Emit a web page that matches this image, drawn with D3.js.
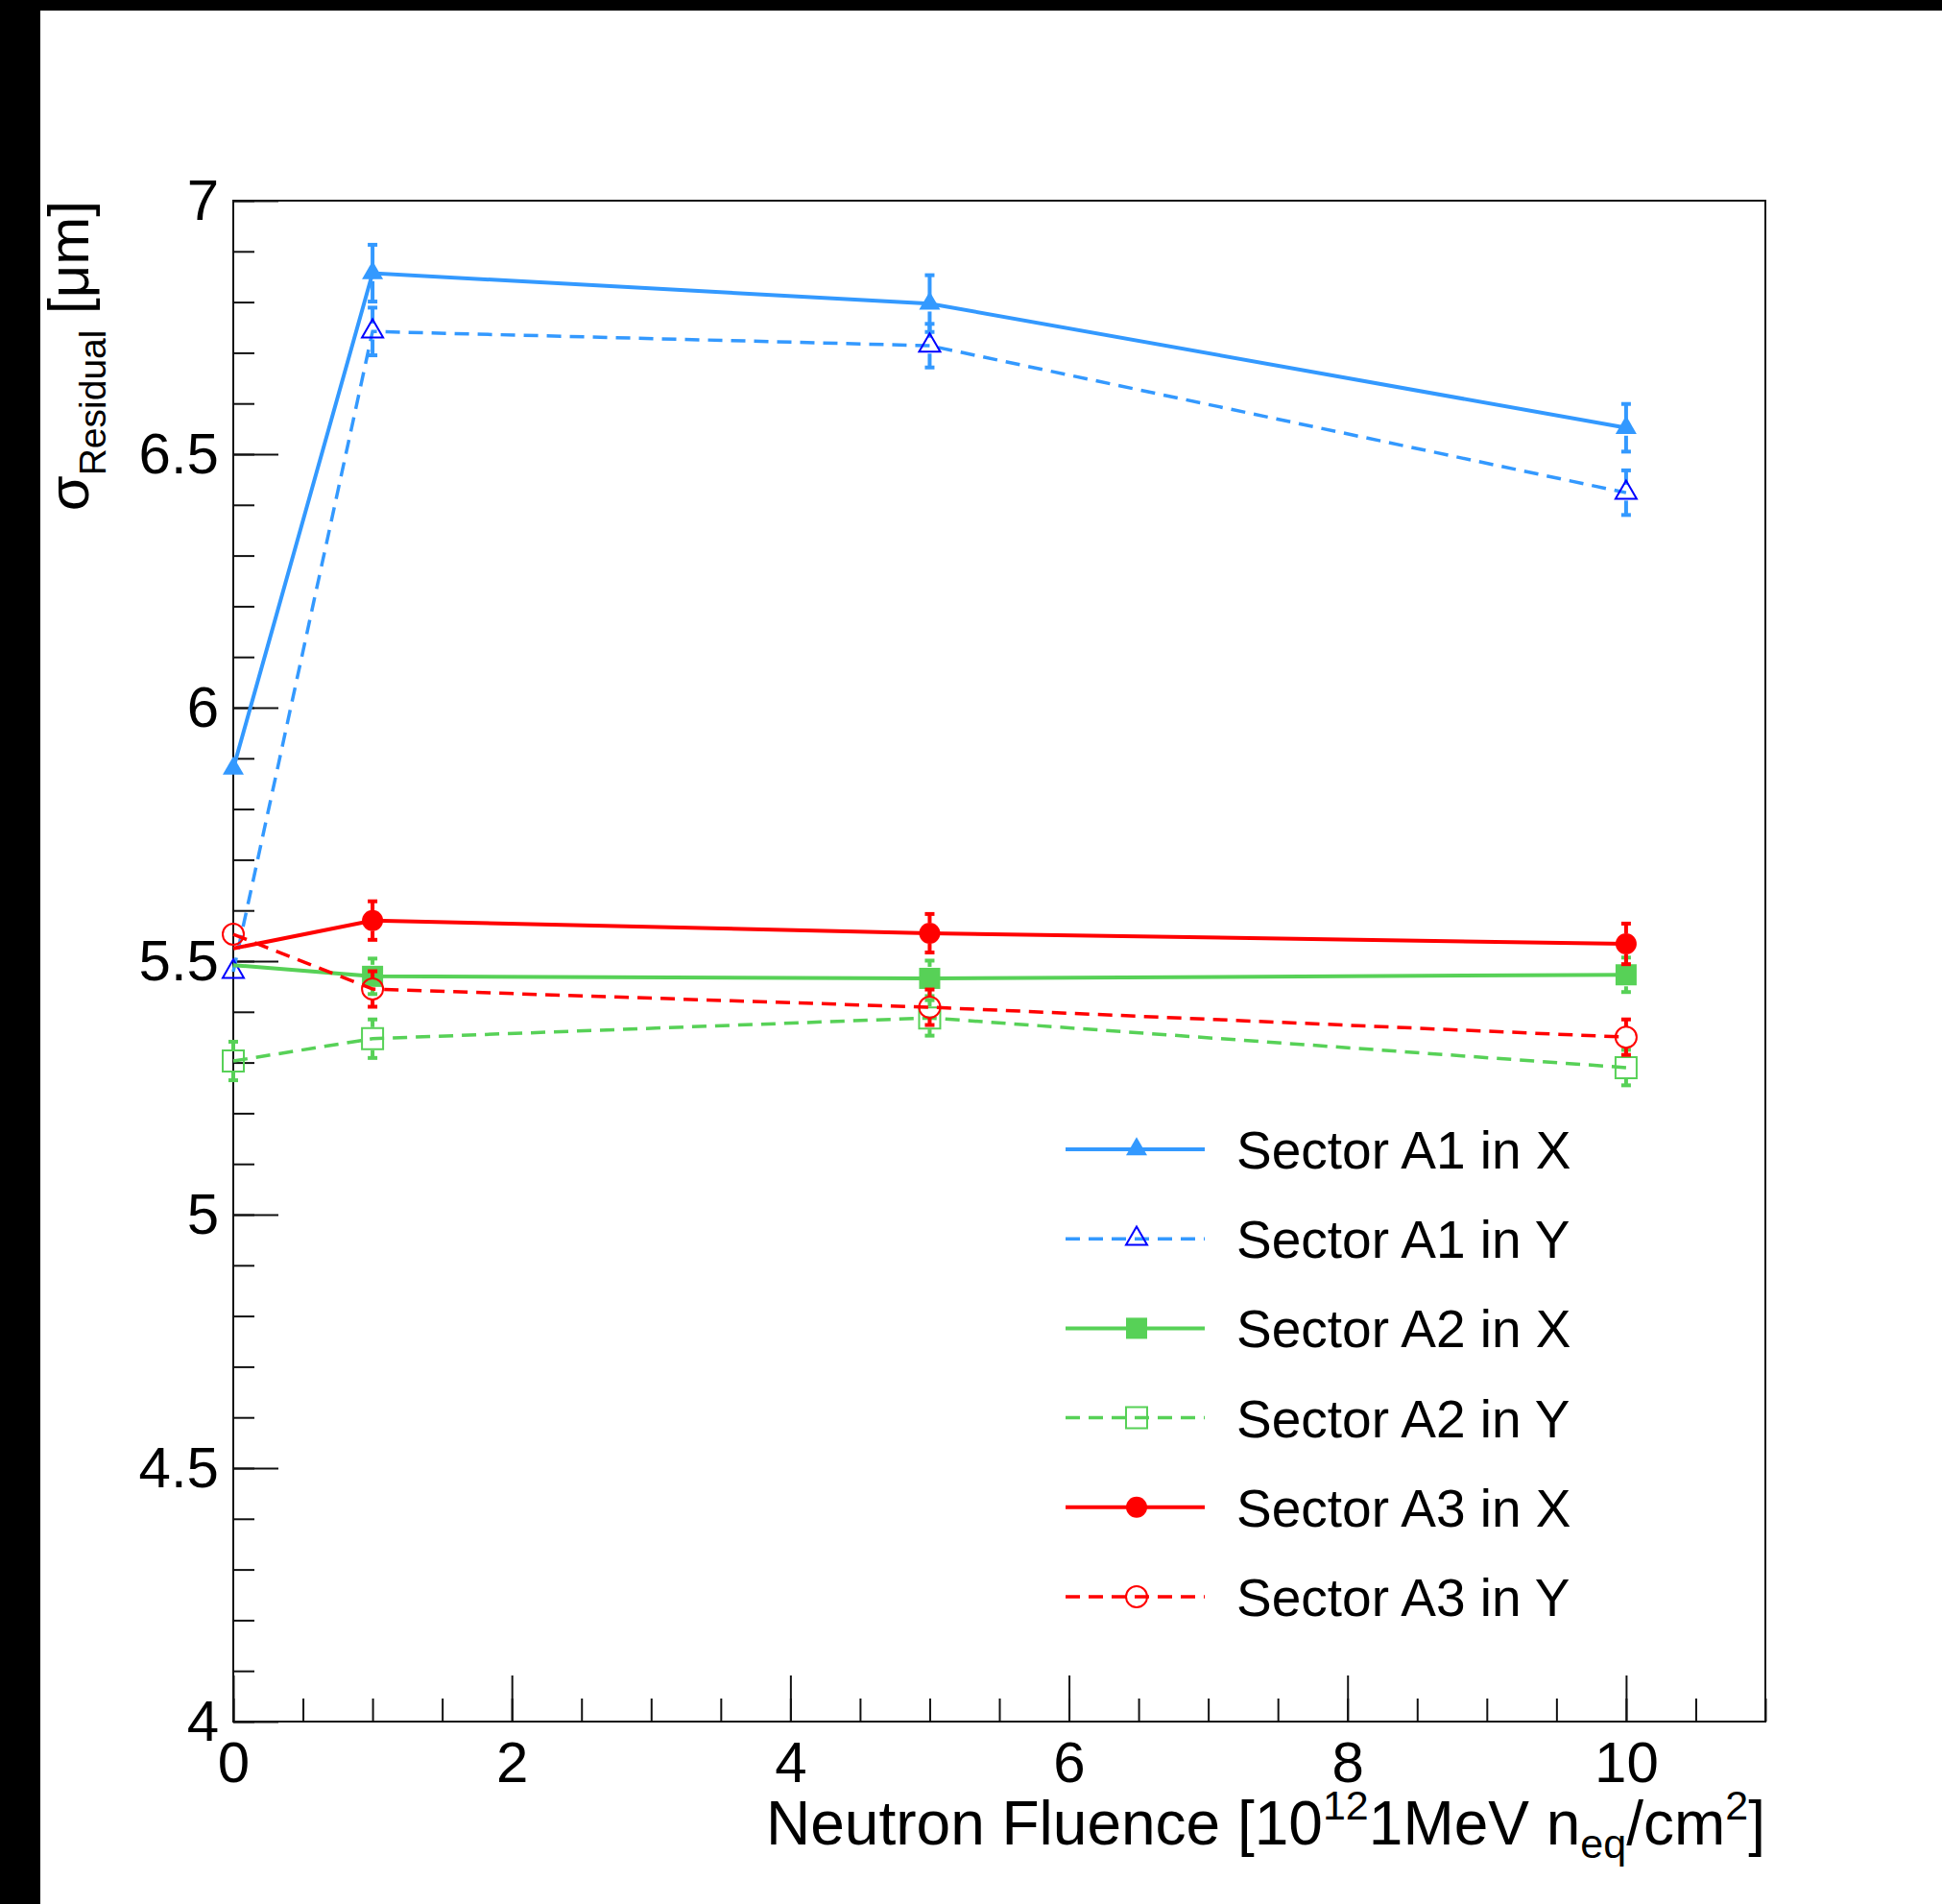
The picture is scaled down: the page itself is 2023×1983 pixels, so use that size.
<!DOCTYPE html>
<html>
<head>
<meta charset="utf-8">
<script src="https://cdn.jsdelivr.net/npm/d3@7"></script>
<style>
  body { margin: 0; background: #fff; }
  text { font-family: "Liberation Sans", Arial, Helvetica, sans-serif; fill: #000; }
</style>
</head>
<body>
<script>
// neutron fluence points, in 10^12 1MeV n_eq/cm^2
var fluence = [0, 1, 5, 10];

// residual widths in um
var a1x = [5.88, 6.857, 6.797, 6.552];
var a1xErr = [0.015, 0.056, 0.056, 0.047];
var a1y = [5.479, 6.742, 6.714, 6.424];
var a1yErr = [0.015, 0.047, 0.043, 0.044];
var a2x = [5.492, 5.470, 5.466, 5.473];
var a2xErr = [0.03, 0.035, 0.035, 0.034];
var a2y = [5.303, 5.347, 5.388, 5.290];
var a2yErr = [0.038, 0.038, 0.035, 0.035];
var a3x = [5.525, 5.580, 5.555, 5.534];
var a3xErr = [0.035, 0.038, 0.038, 0.04];
var a3y = [5.553, 5.445, 5.409, 5.350];
var a3yErr = [0.015, 0.035, 0.035, 0.035];

var legendNames = ["Sector A1 in X", "Sector A1 in Y", "Sector A2 in X",
                   "Sector A2 in Y", "Sector A3 in X", "Sector A3 in Y"];
var yTickLabels = [4, 4.5, 5, 5.5, 6, 6.5, 7];
var xTickLabels = [0, 2, 4, 6, 8, 10];

var width = 2023;
var height = 1983;
var frame = {left: 243, right: 1839, top: 209, bottom: 1793};

var blue = "#3399ff", green = "#57d157", red = "#ff0000";

// the X graphs of A2 and A3 show no marker on the first point
var series = [
    {name: legendNames[0], v: a1x, e: a1xErr, color: blue, dash: null, shape: d3.symbolTriangle, fill: true, mcolor: blue, first: true},
    {name: legendNames[1], v: a1y, e: a1yErr, color: blue, dash: "15,9", shape: d3.symbolTriangle, fill: false, mcolor: "#0000ff", first: true},
    {name: legendNames[2], v: a2x, e: a2xErr, color: green, dash: null, shape: d3.symbolSquare, fill: true, mcolor: green, first: false},
    {name: legendNames[3], v: a2y, e: a2yErr, color: green, dash: "15,9", shape: d3.symbolSquare, fill: false, mcolor: green, first: true},
    {name: legendNames[4], v: a3x, e: a3xErr, color: red, dash: null, shape: d3.symbolCircle, fill: true, mcolor: red, first: false},
    {name: legendNames[5], v: a3y, e: a3yErr, color: red, dash: "15,9", shape: d3.symbolCircle, fill: false, mcolor: red, first: true}
];

var x = d3.scaleLinear().domain([0, 11]).range([frame.left, frame.right]);
var y = d3.scaleLinear().domain([4, 7]).range([frame.bottom, frame.top]);

var svg = d3.select("body").append("svg")
    .attr("width", width)
    .attr("height", height);

svg.append("rect").attr("width", width).attr("height", height).attr("fill", "#fff");
// black strips of the screenshot
svg.append("rect").attr("x", 0).attr("y", 0).attr("width", 42).attr("height", height).attr("fill", "#000");
svg.append("rect").attr("x", 0).attr("y", 0).attr("width", width).attr("height", 11).attr("fill", "#000");

function symbolSize(shape) {
    if (shape === d3.symbolTriangle) return 210;
    if (shape === d3.symbolSquare) return 484;
    return 380;
}

// axes: minor ticks first, then major ticks with labels
var yMinor = d3.axisLeft(y).tickValues(d3.range(40, 71).map(function(d) { return d / 10; }))
    .tickSizeInner(-22).tickSizeOuter(0).tickFormat("");
var yMajor = d3.axisLeft(y).tickValues(yTickLabels)
    .tickSizeInner(-47).tickSizeOuter(0).tickPadding(15).tickFormat(d3.format("~g"));
var xMinor = d3.axisBottom(x).tickValues(d3.range(0, 23).map(function(d) { return d / 2; }))
    .tickSizeInner(-24).tickSizeOuter(0).tickFormat("");
var xMajor = d3.axisBottom(x).tickValues(xTickLabels)
    .tickSizeInner(-48).tickSizeOuter(0).tickPadding(20).tickFormat(d3.format("d"));

[yMinor, yMajor].forEach(function(ax) {
    var g = svg.append("g").attr("transform", "translate(" + frame.left + ",0)").call(ax);
    g.select(".domain").remove();
    g.selectAll("line").attr("stroke", "#111").attr("stroke-width", 2);
});
[xMinor, xMajor].forEach(function(ax) {
    var g = svg.append("g").attr("transform", "translate(0," + frame.bottom + ")").call(ax);
    g.select(".domain").remove();
    g.selectAll("line").attr("stroke", "#111").attr("stroke-width", 2);
});
svg.selectAll(".tick text")
    .attr("font-size", 60)
    .attr("font-family", "Liberation Sans, Arial, sans-serif")
    .attr("fill", "#000");

svg.append("rect")
    .attr("x", frame.left).attr("y", frame.top)
    .attr("width", frame.right - frame.left)
    .attr("height", frame.bottom - frame.top)
    .attr("fill", "none")
    .attr("stroke", "#111")
    .attr("stroke-width", 2);

var line = d3.line()
    .x(function(d) { return x(d.f); })
    .y(function(d) { return y(d.v); });

series.forEach(function(s) {
    var pts = fluence.map(function(f, i) { return {f: f, v: s.v[i], e: s.e[i], i: i}; });
    var g = svg.append("g");

    g.append("path")
        .attr("d", line(pts))
        .attr("fill", "none")
        .attr("stroke", s.color)
        .attr("stroke-width", s.dash ? 3.5 : 4)
        .attr("stroke-dasharray", s.dash);

    var half = Math.sqrt(symbolSize(s.shape)) / 2 + 1;
    pts.forEach(function(p) {
        if (p.i === 0 && !s.first) return;
        var cx = x(p.f), cy = y(p.v);
        var top = y(p.v + p.e), bot = y(p.v - p.e);
        // error bars start at the edge of the marker, with end caps;
        // bars shorter than the marker stay hidden
        if (cy - top <= half) return;
        [[top, cy - half], [bot, cy + half]].forEach(function(seg) {
            g.append("line")
                .attr("x1", cx).attr("x2", cx)
                .attr("y1", seg[0]).attr("y2", seg[1])
                .attr("stroke", s.color).attr("stroke-width", 4);
            g.append("line")
                .attr("x1", cx - 5).attr("x2", cx + 5)
                .attr("y1", seg[0]).attr("y2", seg[0])
                .attr("stroke", s.color).attr("stroke-width", 4);
        });
    });

    g.selectAll("path.mark")
        .data(pts.filter(function(p) { return p.i > 0 || s.first; }))
        .enter()
        .append("path")
        .attr("class", "mark")
        .attr("transform", function(p) { return "translate(" + x(p.f) + "," + y(p.v) + ")"; })
        .attr("d", d3.symbol().type(s.shape).size(symbolSize(s.shape)))
        .attr("fill", s.fill ? s.mcolor : "none")
        .attr("stroke", s.mcolor)
        .attr("stroke-width", s.fill ? 0 : 2);
});

// legend
var legend = svg.append("g");
series.forEach(function(s, i) {
    var ly = 1197 + i * 93.2;
    legend.append("line")
        .attr("x1", 1110).attr("x2", 1255)
        .attr("y1", ly).attr("y2", ly)
        .attr("stroke", s.color)
        .attr("stroke-width", s.dash ? 3.5 : 4)
        .attr("stroke-dasharray", s.dash);
    legend.append("path")
        .attr("transform", "translate(1184," + ly + ")")
        .attr("d", d3.symbol().type(s.shape).size(symbolSize(s.shape)))
        .attr("fill", s.fill ? s.mcolor : "none")
        .attr("stroke", s.mcolor)
        .attr("stroke-width", s.fill ? 0 : 2);
    legend.append("text")
        .attr("x", 1288).attr("y", ly + 20)
        .attr("font-size", 55)
        .text(s.name);
});

// axis titles
var xt = svg.append("text")
    .attr("x", frame.right).attr("y", 1921)
    .attr("text-anchor", "end")
    .attr("font-size", 64);
xt.append("tspan").text("Neutron Fluence [10");
xt.append("tspan").attr("font-size", 43).attr("dy", -26).text("12");
xt.append("tspan").attr("dy", 26).text("1MeV n");
xt.append("tspan").attr("font-size", 43).attr("dy", 14).text("eq");
xt.append("tspan").attr("dy", -14).text("/cm");
xt.append("tspan").attr("font-size", 43).attr("dy", -26).text("2");
xt.append("tspan").attr("dy", 26).text("]");

var yt = svg.append("text")
    .attr("transform", "translate(92," + frame.top + ") rotate(-90)")
    .attr("text-anchor", "end")
    .attr("font-size", 60);
yt.append("tspan").text("σ");
yt.append("tspan").attr("font-size", 39).attr("dy", 18).text("Residual");
yt.append("tspan").attr("dy", -18).text(" [μm]");
</script>
</body>
</html>
